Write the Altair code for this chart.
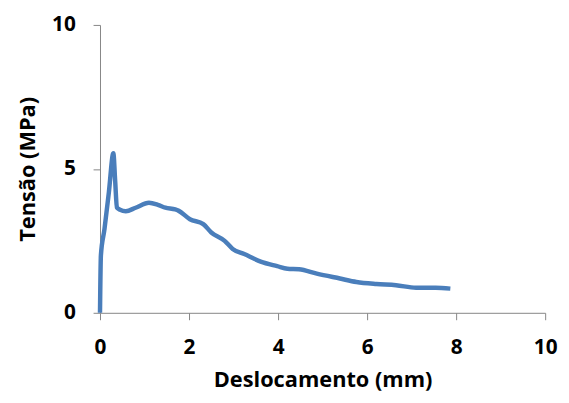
import altair as alt
import pandas as pd

displacement = [0.0, 0.02, 0.10, 0.20, 0.30, 0.34, 0.38, 0.45, 0.58, 0.80, 1.10, 1.30, 1.47, 1.69, 1.76,
                2.02, 2.32, 2.50, 2.80, 2.98, 3.24, 3.61, 3.98, 4.21, 4.47, 4.87, 5.39, 5.76,
                6.21, 6.65, 7.10, 7.54, 7.87]
stress = [0.0, 1.99, 2.9, 4.2, 5.54, 4.6, 3.65, 3.58, 3.53, 3.65, 3.82, 3.75, 3.65, 3.59, 3.55,
          3.25, 3.08, 2.79, 2.50, 2.22, 2.04, 1.78, 1.62, 1.53, 1.51, 1.36, 1.19, 1.07,
          1.00, 0.96, 0.87, 0.87, 0.84]

df = pd.DataFrame({"x": displacement, "y": stress, "i": list(range(len(stress)))})

font = "Open Sans"
axis_color = "#868686"

chart = alt.Chart(df).mark_line(color="#4a7ebb", strokeWidth=4.5, interpolate="monotone").encode(
    x=alt.X("x:Q", scale=alt.Scale(domain=[0, 10], nice=False),
            axis=alt.Axis(title="Deslocamento (mm)", values=[0, 2, 4, 6, 8, 10], grid=False,
                          labelFlush=False,
                          domainColor=axis_color, tickColor=axis_color, tickSize=7,
                          labelFont=font, labelFontSize=21, labelFontWeight="bold", labelColor="black",
                          labelPadding=17, titleFont=font, titleFontSize=22, titleFontWeight="bold",
                          titleColor="black", titlePadding=12)),
    y=alt.Y("y:Q", scale=alt.Scale(domain=[0, 10], nice=False),
            axis=alt.Axis(title="Tensão (MPa)", values=[0, 5, 10], grid=False,
                          labelFlush=False,
                          domainColor=axis_color, tickColor=axis_color, tickSize=7,
                          labelFont=font, labelFontSize=21, labelFontWeight="bold", labelColor="black",
                          labelPadding=18, titleFont=font, titleFontSize=22, titleFontWeight="bold",
                          titleColor="black", titlePadding=12)),
    order="i:Q",
).properties(
    width=450, height=291,
    autosize=alt.AutoSizeParams(type="none"),
    padding={"left": 93, "top": 15, "right": 16, "bottom": 84},
).configure_view(stroke=None)

chart.save("out.html", embed_options={"renderer": "svg", "actions": False})
